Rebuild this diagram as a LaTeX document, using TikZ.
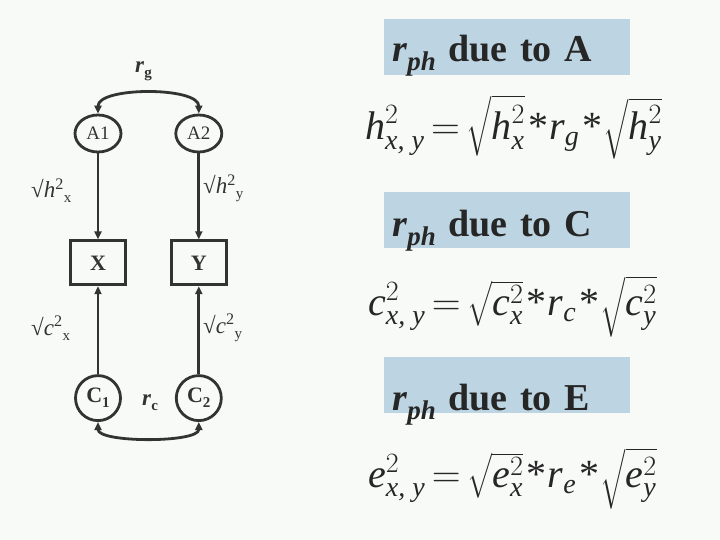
\RequirePackage{fix-cm}
\documentclass[tikz,border=0pt]{standalone}
\usepackage{amsmath}
\usepackage{fontspec}
\setmainfont{Liberation Serif}
\usetikzlibrary{arrows.meta,positioning,shapes.geometric}
\definecolor{inkgray}{HTML}{333333}
\definecolor{inkdark}{HTML}{262626}
\definecolor{bannerblue}{HTML}{BDD5E2}
\definecolor{paper}{HTML}{F8FAF8}
\newcommand{\rph}{\textbf{\textit{r}}\raisebox{-9pt}{\fontsize{27}{30}\selectfont\textbf{\textit{ph}}}}
\newcommand{\lowsub}[1]{\raisebox{-5pt}{\fontsize{15}{16}\selectfont #1}}
\newcommand{\eqstar}{\mkern1.5mu\textup{*}\mkern0.5mu}
\newcommand{\eqsign}{\mkern3mu{=}\mkern3mu}
\tikzset{
  latent/.style={
    draw=inkgray,
    ellipse,
    line width=2.8pt,
    minimum width=46pt,
    minimum height=37pt,
    inner sep=0pt,
    text=inkgray,
    font=\fontsize{19}{20}\selectfont
  },
  common/.style={
    draw=inkgray,
    circle,
    line width=2.8pt,
    minimum size=45pt,
    inner sep=0pt,
    text=inkgray,
    font=\fontsize{22}{24}\selectfont\bfseries
  },
  observed/.style={
    draw=inkgray,
    rectangle,
    line width=2.8pt,
    minimum width=55pt,
    minimum height=44pt,
    inner sep=0pt,
    text=inkgray,
    font=\fontsize{22}{24}\selectfont\bfseries
  },
  pathlabel/.style={
    anchor=base west,
    inner sep=0pt,
    text=inkgray,
    font=\fontsize{23}{24}\selectfont
  },
  banner/.style={
    fill=bannerblue,
    anchor=north west,
    text width=230pt,
    align=left,
    inner xsep=8pt,
    inner ysep=0pt,
    text depth=56pt-#1,
    text height=#1,
    text=inkdark,
    font=\fontsize{38}{44}\selectfont\bfseries
  },
  eqn/.style={
    anchor=base west,
    inner sep=0pt,
    text=inkdark,
    font=\fontsize{40}{48}\selectfont
  },
  load/.style={-{Triangle[length=8pt,width=7pt]},line width=2.8pt,draw=inkgray},
  corr/.style={{Triangle[length=8pt,width=7pt]}-{Triangle[length=8pt,width=7pt]},line width=2.8pt,draw=inkgray}
}

\begin{document}
\begin{tikzpicture}[x=1pt,y=-1pt,node distance=52pt]
  \path[fill=paper,use as bounding box] (0,0) rectangle (720,540);
  \node[latent] (A1) at (98,133.5) {A1};
  \node[latent,right=of A1] (A2) {A2};
  \node[observed,below=86pt of A1] (X) {X};
  \node[observed,below=86pt of A2] (Y) {Y};
  \node[common,below=88pt of X] (C1) {C\lowsub{1}};
  \node[common,below=88pt of Y] (C2) {C\lowsub{2}};
  \draw[load] (A1) -- (X);
  \draw[load] (A2) -- (Y);
  \draw[load] (C1) -- (X);
  \draw[load] (C2) -- (Y);
  \draw[corr] (A1.north) .. controls +(0,-27) and +(0,-27) .. (A2.north);
  \draw[corr] (C1.south) .. controls +(0,21) and +(0,21) .. (C2.south);
  \node[pathlabel] (rg) at (135,73) {\textbf{\textit{r}}\textbf{\lowsub{g}}};
  \node[pathlabel] (rc) at (142,405) {\textbf{\textit{r}}\textbf{\lowsub{c}}};
  \node[pathlabel] (hx) at (31,198) {√\textit{h}\textsuperscript{2}\lowsub{x}};
  \node[pathlabel] (hy) at (203,194) {√\textit{h}\textsuperscript{2}\lowsub{y}};
  \node[pathlabel] (cx) at (31,335) {√\textit{c}\textsuperscript{2}\lowsub{x}};
  \node[pathlabel] (cy) at (203,333) {√\textit{c}\textsuperscript{2}\lowsub{y}};
  \node[banner=42pt] (bannerA) at (384,19) {\rph{} due to A};
  \node[banner=44pt] (bannerC) at (384,192) {\rph{} due to C};
  \node[banner=53pt] (bannerE) at (384,357) {\rph{} due to E};
  \node[eqn] (eqh) at (365,140) {$\textit{h}^{2}_{\textit{x, y}}\eqsign\sqrt{\textit{h}^{2}_{\textit{x}}}\eqstar\textit{r}_{\textit{g}}\eqstar\sqrt{\textit{h}^{2}_{\textit{y}}}$};
  \node[eqn] (eqc) at (368,315) {$\textit{c}^{2}_{\textit{x, y}}\eqsign\sqrt{\textit{c}^{2}_{\textit{x}}}\eqstar\textit{r}_{\textit{c}}\eqstar\sqrt{\textit{c}^{2}_{\textit{y}}}$};
  \node[eqn] (eqe) at (368,487) {$\textit{e}^{2}_{\textit{x, y}}\eqsign\sqrt{\textit{e}^{2}_{\textit{x}}}\eqstar\textit{r}_{\textit{e}}\eqstar\sqrt{\textit{e}^{2}_{\textit{y}}}$};
\end{tikzpicture}
\end{document}
